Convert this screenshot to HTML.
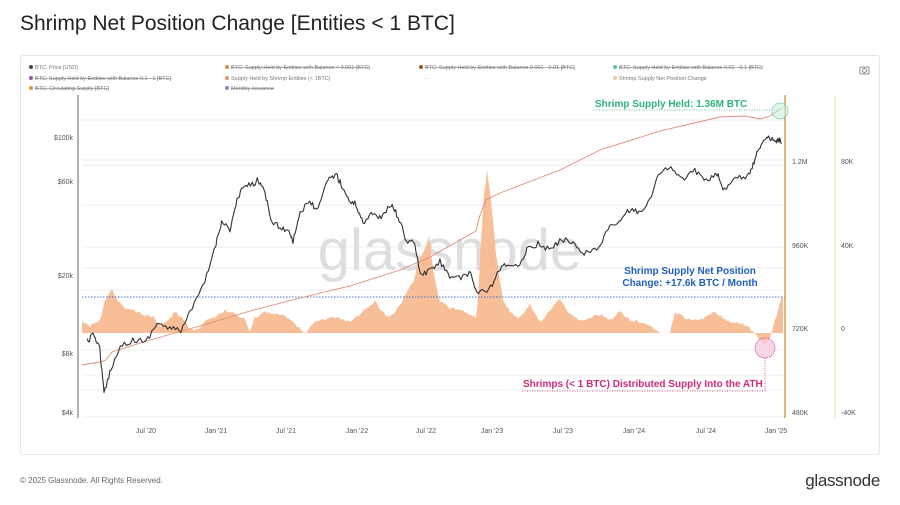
<!DOCTYPE html>
<html><head><meta charset="utf-8"><style>
body{margin:0;background:#fff;width:900px;height:500px;overflow:hidden;font-family:"Liberation Sans",sans-serif;}
svg text{font-family:"Liberation Sans",sans-serif;}
</style></head><body>
<svg id="s" width="900" height="500" xmlns="http://www.w3.org/2000/svg">
<rect x="0" y="0" width="900" height="500" fill="#fff"/>
<text x="20" y="30" font-size="21" fill="#222">Shrimp Net Position Change [Entities &lt; 1 BTC]</text>
<rect x="20.5" y="55.5" width="859" height="399" fill="#fff" stroke="#e6e6e6" rx="3"/>
<g font-size="5.5" fill="#777">
<circle cx="31" cy="67" r="2" fill="#444"/><text x="35" y="69">BTC: Price [USD]</text>
<circle cx="227" cy="67" r="2" fill="#d98a3a"/><text x="231" y="69" text-decoration="line-through">BTC: Supply Held by Entities with Balance &lt; 0.001 [BTC]</text>
<circle cx="421" cy="67" r="2" fill="#9a5a20"/><text x="425" y="69" text-decoration="line-through">BTC: Supply Held by Entities with Balance 0.001 - 0.01 [BTC]</text>
<circle cx="615" cy="67" r="2" fill="#5cc0b0"/><text x="619" y="69" text-decoration="line-through">BTC: Supply Held by Entities with Balance 0.01 - 0.1 [BTC]</text>
<circle cx="31" cy="78" r="2" fill="#9a4fb0"/><text x="35" y="80" text-decoration="line-through">BTC: Supply Held by Entities with Balance 0.1 - 1 [BTC]</text>
<circle cx="227" cy="78" r="2" fill="#e8906a"/><text x="231" y="80">Supply Held by Shrimp Entities (&lt; 1BTC)</text>
<text x="425" y="80">-</text>
<circle cx="615" cy="78" r="2" fill="#f5c9a0"/><text x="619" y="80">Shrimp Supply Net Position Change</text>
<circle cx="31" cy="88" r="2" fill="#e0a030"/><text x="35" y="90" text-decoration="line-through">BTC: Circulating Supply [BTC]</text>
<circle cx="227" cy="88" r="2" fill="#7a90c0"/><text x="231" y="90" text-decoration="line-through">Monthly Issuance</text>
</g>
<rect x="860" y="67" width="9" height="7" rx="1" fill="none" stroke="#888" stroke-width="1"/><circle cx="864.5" cy="70.5" r="2" fill="none" stroke="#888"/>
<g stroke="#eeeeee" stroke-width="1">
<line x1="82" y1="120" x2="785" y2="120"/><line x1="82" y1="160" x2="785" y2="160"/><line x1="82" y1="165" x2="785" y2="165"/>
<line x1="82" y1="205" x2="785" y2="205"/><line x1="82" y1="247" x2="785" y2="247"/><line x1="82" y1="268" x2="785" y2="268"/>
<line x1="82" y1="290" x2="785" y2="290"/><line x1="82" y1="350" x2="785" y2="350"/><line x1="82" y1="375" x2="785" y2="375"/>
<line x1="82" y1="390" x2="785" y2="390"/><line x1="82" y1="417" x2="785" y2="417"/>
</g>
<text x="450" y="270" font-size="58" fill="#dedede" text-anchor="middle" letter-spacing="0">glassnode</text>
<path id="bars" fill="#f6b78c" opacity="0.9"/>
<line x1="82" y1="297" x2="785" y2="297" stroke="#4a6fd0" stroke-width="1" stroke-dasharray="1.5,1.5"/>
<path id="supply" fill="none" stroke="#e38a75" stroke-width="0.9"/>
<path id="price" fill="none" stroke="#333" stroke-width="1.1" stroke-linejoin="round"/>
<line x1="78" y1="95" x2="78" y2="418" stroke="#666" stroke-width="1"/>
<line x1="785" y1="95" x2="785" y2="418" stroke="#d4a050" stroke-width="1.5"/>
<line x1="835" y1="95" x2="835" y2="418" stroke="#e8d8b8" stroke-width="1"/>
<g font-size="7" fill="#555" text-anchor="end">
<text x="73" y="140">$100k</text><text x="73" y="184">$60k</text><text x="73" y="278">$20k</text><text x="73" y="356">$8k</text><text x="73" y="415">$4k</text>
</g>
<g font-size="7" fill="#555">
<text x="792" y="164">1.2M</text><text x="792" y="248">960K</text><text x="792" y="331">720K</text><text x="792" y="415">480K</text>
<text x="841" y="164">80K</text><text x="841" y="248">40K</text><text x="841" y="331">0</text><text x="841" y="415">-40K</text>
</g>
<g font-size="7" fill="#555" text-anchor="middle">
<text x="146" y="433">Jul '20</text><text x="216" y="433">Jan '21</text><text x="286" y="433">Jul '21</text><text x="357" y="433">Jan '22</text><text x="426" y="433">Jul '22</text><text x="492" y="433">Jan '23</text><text x="563" y="433">Jul '23</text><text x="634" y="433">Jan '24</text><text x="706" y="433">Jul '24</text><text x="776" y="433">Jan '25</text>
</g>
<text x="595" y="107" font-size="10" font-weight="bold" fill="#2eb37a">Shrimp Supply Held: 1.36M BTC</text>
<line x1="594" y1="110" x2="780" y2="110" stroke="#2eb37a" stroke-width="0.8" stroke-dasharray="1,1.5"/>
<circle cx="780" cy="111" r="8" fill="#c8efd8" fill-opacity="0.6" stroke="#2eb37a" stroke-width="0.7" stroke-dasharray="1.5,1"/>
<text x="690" y="274" font-size="10" font-weight="bold" fill="#1f5fbf" text-anchor="middle">Shrimp Supply Net Position</text>
<text x="690" y="286" font-size="10" font-weight="bold" fill="#1f5fbf" text-anchor="middle">Change: +17.6k BTC / Month</text>
<circle cx="765" cy="348" r="10" fill="#f7c5dc" fill-opacity="0.7" stroke="#d02a78" stroke-width="0.7" stroke-dasharray="1.5,1"/>
<line x1="765" y1="358" x2="765" y2="391" stroke="#d02a78" stroke-width="0.8" stroke-dasharray="1,1.5"/>
<text x="523" y="387" font-size="10" font-weight="bold" fill="#d02a78">Shrimps (&lt; 1 BTC) Distributed Supply Into the ATH</text>
<line x1="522" y1="391" x2="766" y2="391" stroke="#d02a78" stroke-width="0.8" stroke-dasharray="1,1.5"/>
<text x="20" y="483" font-size="8" fill="#666">© 2025 Glassnode. All Rights Reserved.</text>
<text x="880" y="486" font-size="17" fill="#333" text-anchor="end" letter-spacing="-0.3">glassnode</text>
</svg>
<script>
var bars=[[82,323],[90,326],[100,320],[105,300],[112,289],[118,300],[125,308],[140,313],[155,318],[160,327],[168,320],[175,312],[182,318],[190,330],[198,330],[205,320],[215,318],[225,310],[235,314],[245,320],[250,332],[255,318],[265,312],[275,314],[285,316],[295,324],[305,334],[315,322],[330,317],[340,318],[350,322],[360,315],[370,306],[375,300],[382,312],[390,318],[400,305],[408,290],[413,282],[418,265],[424,250],[429,236],[434,275],[440,302],[450,308],[465,312],[476,318],[478,297],[481,240],[484,195],[487,172],[491,200],[496,255],[503,300],[510,312],[520,318],[530,304],[540,322],[550,310],[560,298],[570,315],[580,320],[590,318],[600,314],[610,320],[620,312],[630,320],[640,322],[650,325],[660,333],[670,333],[675,312],[685,318],[695,320],[705,318],[715,312],[725,320],[745,325],[755,333],[760,340],[765,345],[770,338],[775,320],[782,297],[783,333]];
var s2=777;function r2(){s2=(s2*16807)%2147483647;return s2/2147483647-0.5;}
var d="M82,333";
for(var i=0;i<bars.length-1;i++){var a=bars[i],b=bars[i+1];var n=Math.max(1,Math.round((b[0]-a[0])/2));for(var k=0;k<n;k++){var t=k/n;var x=a[0]+(b[0]-a[0])*t;var y=a[1]+(b[1]-a[1])*t;if(y<331)y+=r2()*3;d+="L"+x.toFixed(1)+","+y.toFixed(1);}}
d+="L783,297L783,333Z";
document.getElementById("bars").setAttribute("d",d);
var sup=[[82,365],[100,362],[106,360],[112,352],[150,340],[200,326],[250,311],[300,298],[350,286],[400,270],[430,257],[476,231],[480,215],[486,200],[500,193],[560,170],[600,150],[660,131],[720,117],[745,116],[760,119],[770,116],[782,108]];
document.getElementById("supply").setAttribute("d","M"+sup.map(function(p){return p.join(",")}).join("L"));
var pr=[[2020.08,9300],[2020.13,10000],[2020.17,8500],[2020.2,5000],[2020.25,6800],[2020.33,9000],[2020.42,9400],[2020.5,9200],[2020.58,11500],[2020.67,10700],[2020.75,10600],[2020.83,13500],[2020.92,18500],[2021.0,29000],[2021.04,38000],[2021.1,34000],[2021.15,48000],[2021.2,57000],[2021.27,58000],[2021.3,62000],[2021.35,52000],[2021.4,37000],[2021.47,35000],[2021.53,33000],[2021.55,30000],[2021.6,42000],[2021.67,47000],[2021.73,43000],[2021.8,62000],[2021.86,65000],[2021.9,57000],[2021.95,48000],[2022.0,46000],[2022.05,37000],[2022.12,42000],[2022.18,39000],[2022.25,46000],[2022.3,40000],[2022.36,30000],[2022.42,29000],[2022.46,20000],[2022.52,21000],[2022.6,23500],[2022.67,20000],[2022.75,19200],[2022.82,20500],[2022.86,16500],[2022.95,16700],[2023.02,21000],[2023.08,23000],[2023.17,22000],[2023.22,27500],[2023.3,29000],[2023.38,27000],[2023.47,30500],[2023.55,29500],[2023.63,26000],[2023.72,27000],[2023.8,34500],[2023.88,37500],[2023.95,43000],[2024.02,42000],[2024.1,48000],[2024.17,68000],[2024.25,70000],[2024.33,61000],[2024.42,69000],[2024.5,60000],[2024.58,66000],[2024.62,54000],[2024.7,63000],[2024.78,64000],[2024.83,70000],[2024.87,88000],[2024.92,97000],[2024.96,100000],[2025.0,94000],[2025.02,98000],[2025.04,94000]];
var s=12345;function rnd(){s=(s*16807)%2147483647;return s/2147483647-0.5;}
var pts=[];
for(var i=0;i<pr.length-1;i++){var a=pr[i],b=pr[i+1];for(var k=0;k<6;k++){var t=k/6;var yr=a[0]+(b[0]-a[0])*t;var lp=Math.log10(a[1])+(Math.log10(b[1])-Math.log10(a[1]))*t;var x=216+(yr-2021)*140;var y=138+196.7*(5-lp)+rnd()*6;pts.push(x.toFixed(1)+","+y.toFixed(1));}}
var l=pr[pr.length-1];pts.push((216+(l[0]-2021)*140).toFixed(1)+","+(138+196.7*(5-Math.log10(l[1]))).toFixed(1));
document.getElementById("price").setAttribute("d","M"+pts.join("L"));
</script>
</body></html>
